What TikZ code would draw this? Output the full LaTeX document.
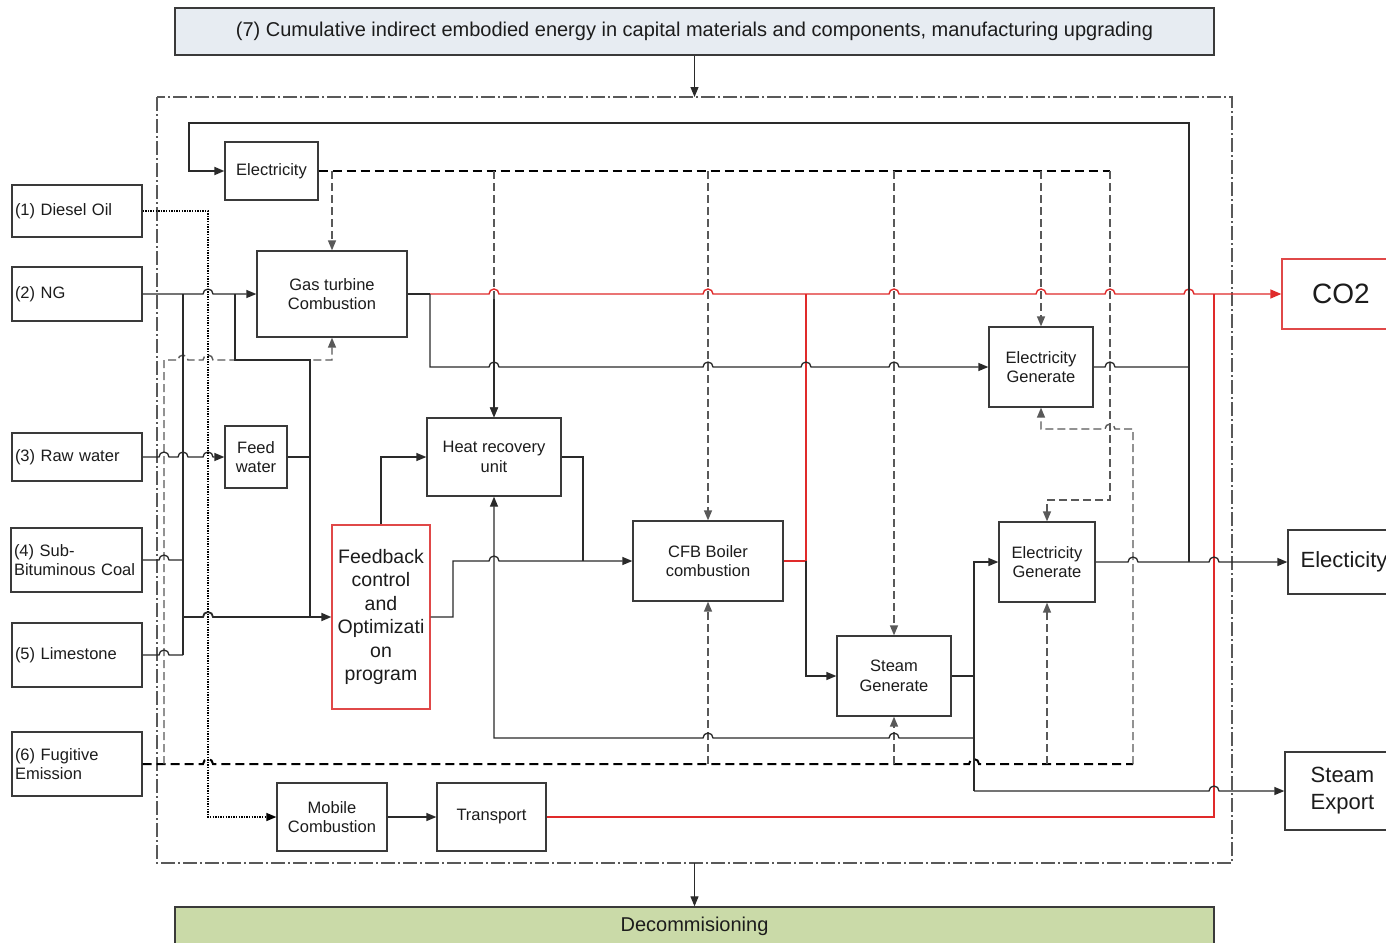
\documentclass[tikz,border=0pt]{standalone}
\usepackage{fontspec}
\setmainfont{Liberation Sans}
\usetikzlibrary{arrows.meta}
\definecolor{boxc}{HTML}{3A3A3A}
\definecolor{linec}{HTML}{2A2A2A}
\definecolor{redc}{HTML}{E02A2A}
\definecolor{redbox}{HTML}{E04848}
\definecolor{txt}{HTML}{1C1C1C}
\definecolor{topfill}{HTML}{E7ECF2}
\definecolor{decfill}{HTML}{CADAA8}
\newcommand\jmpR[2]{-- (#1-5,#2) arc[start angle=180,end angle=0,radius=5pt]}
\newcommand\jmpL[2]{-- (#1+5,#2) arc[start angle=0,end angle=180,radius=5pt]}
\newcommand\bx[7]{\node[#6, minimum width={(#4-#2)*1pt}, minimum height={(#5-#3)*1pt}] (#1) at ({(#2+#4)/2},{(#3+#5)/2}) {#7};}
\begin{document}
\begin{tikzpicture}[x=1pt,y=-1pt,
  box/.style={draw=boxc, line width=1.3pt, fill=white, inner sep=2pt, align=center, text=txt,
    font=\fontsize{16.5}{19.5}\selectfont},
  inbox/.style={box, align=left, text width=124pt, inner xsep=3pt},
  redbox/.style={box, draw=redbox},
  ln/.style={draw=linec, line width=1.3pt},
  arr/.style={-{Triangle[length=10pt,width=8pt]}},
  rarr/.style={-{Triangle[length=11pt,width=9pt,fill=redc]}},
  rd/.style={draw=redc, line width=1.4pt},
  dsh/.style={draw=black, line width=2pt, dash pattern=on 9pt off 5pt},
  dshg/.style={draw=black!65, line width=1.4pt, dash pattern=on 8pt off 4pt},
  dotl/.style={draw=black, line width=1.4pt, dash pattern=on 1.3pt off 1.3pt},
  bnd/.style={draw=black!65, line width=1.2pt, dash pattern=on 14pt off 3pt on 2pt off 3pt}]
\useasboundingbox (0,0) rectangle (1386,942);
\clip (0,0) rectangle (1386,942);
\fill[white] (0,0) rectangle (1386,942);

% boundary
\draw[bnd] (157,97) rectangle (1232,863);

% top and bottom boxes
\bx{top7}{175}{8}{1214}{55}{box, fill=topfill, font=\fontsize{20}{23}\selectfont}{(7) Cumulative indirect embodied energy in capital materials and components, manufacturing upgrading}
\bx{decom}{175}{907}{1214}{945}{box, fill=decfill, font=\fontsize{20}{23}\selectfont}{Decommisioning}

% inputs
\bx{diesel}{12}{185}{142}{237}{inbox}{(1) Diesel Oil}
\bx{ng}{12}{267}{142}{321}{inbox}{(2) NG}
\bx{raw}{12}{433}{142}{481}{inbox}{(3) Raw water}
\bx{coal}{11}{528}{142}{592}{inbox, text width=125pt}{(4) Sub-\\Bituminous Coal}
\bx{lime}{12}{623}{142}{687}{inbox}{(5) Limestone}
\bx{fug}{12}{732}{142}{796}{inbox}{(6) Fugitive\\Emission}

% process boxes
\bx{elec}{225}{142}{318}{200}{box}{Electricity}
\bx{gt}{257}{251}{407}{337}{box}{Gas turbine\\Combustion}
\bx{feed}{225}{426}{287}{488}{box}{Feed\\water}
\bx{hru}{427}{418}{561}{496}{box}{Heat recovery\\unit}
\bx{fb}{332}{525}{430}{709}{redbox, font=\fontsize{19.5}{23.5}\selectfont}{Feedback\\control\\and\\Optimizati\\on\\program}
\bx{cfb}{633}{521}{783}{601}{box}{CFB Boiler\\combustion}
\bx{sg}{837}{636}{951}{716}{box}{Steam\\Generate}
\bx{eg1}{989}{327}{1093}{407}{box}{Electricity\\Generate}
\bx{eg2}{999}{522}{1095}{602}{box}{Electricity\\Generate}
\bx{mob}{277}{783}{387}{851}{box}{Mobile\\Combustion}
\bx{trans}{437}{783}{546}{851}{box}{Transport}

% outputs
\bx{co2}{1282}{259}{1400}{329}{redbox, font=\fontsize{28}{32}\selectfont}{CO2}
\bx{elo}{1288}{530}{1400}{594}{box, font=\fontsize{22}{26}\selectfont}{Electicity}
\bx{steam}{1285}{752}{1400}{830}{box, font=\fontsize{22}{27}\selectfont}{Steam\\Export}

% life-cycle arrows
\draw[ln, line width=1pt, arr] (top7.south) -- (694.5,97);
\draw[ln, line width=1pt, arr] (694.5,863) -- (decom.north);

% red emission lines
\draw[rd] (trans.east) -- (1214,817) -- (1214,294);
\draw[rd] (cfb.east) -- (806,561) -- (806,294);
\draw[rd, rarr] (430,294) \jmpR{494}{294}\jmpR{708}{294}\jmpR{894}{294}\jmpR{1041}{294}\jmpR{1110}{294}\jmpR{1189}{294} -- (co2.west);

% electricity distribution (dashed)
\draw[dsh] (elec.east) -- (1110,171);
\draw[dshg, arr] (1110,171) -- (1110,500) -- (1047,500) -- (eg2.north);
\draw[dshg, arr] (332,171) -- (gt.north);
\draw[dshg, arr] (494,171) -- (hru.north);
\draw[dshg, arr] (708,171) -- (cfb.north);
\draw[dshg, arr] (894,171) -- (sg.north);
\draw[dshg, arr] (1041,171) -- (eg1.north);

% fugitive emission (dashed)
\draw[dsh] (fug.east) \jmpR{208}{764}\jmpR{974}{764} -- (1133,764);
\draw[dshg, arr] (1133,764) -- (1133,429) \jmpL{1110}{429} -- (1041,429) -- (eg1.south);
\draw[dshg, arr] (708,764) -- (cfb.south);
\draw[dshg, arr] (894,764) -- (sg.south);
\draw[dshg, arr] (1047,764) -- (eg2.south);
\draw[dshg, arr] (164,764) -- (164,360) \jmpR{183}{360}\jmpR{208}{360} -- (332,360) -- (gt.south);

% fuel and feed lines
\draw[ln, arr] (ng.east) \jmpR{208}{294} -- (gt.west);
\draw[ln] (183,294) -- (183,655);
\draw[ln] (235,294) -- (235,360) -- (310,360) -- (310,617);
\draw[ln, arr] (raw.east) \jmpR{164}{457}\jmpR{183}{457}\jmpR{208}{457} -- (feed.west);
\draw[ln] (feed.east) -- (310,457);
\draw[ln] (coal.east) \jmpR{164}{560} -- (183,560);
\draw[ln] (lime.east) \jmpR{164}{655} -- (183,655);
\draw[ln, line width=1.8pt, arr] (183,617) \jmpR{208}{617} -- (fb.west);
\draw[dotl, arr] (diesel.east) -- (208,211) -- (208,817) -- (mob.west);
\draw[ln, arr] (mob.east) -- (trans.west);

% process flows
\draw[ln] (gt.east) -- (430,294);
\draw[ln, arr] (430,294) -- (430,367) \jmpR{494}{367}\jmpR{708}{367}\jmpR{806}{367}\jmpR{894}{367} -- (eg1.west);
\draw[ln, arr] (494,299) -- (hru.north);
\draw[ln, arr] (fb.north) |- (hru.west);
\draw[ln, arr] (fb.east) -- (453,617) -- (453,561) \jmpR{494}{561} -- (cfb.west);
\draw[ln] (hru.east) -- (583,457) -- (583,561);
\draw[ln, arr] (806,561) |- (sg.west);
\draw[ln, arr] (974,738) \jmpL{894}{738}\jmpL{708}{738} -- (494,738) -- (hru.south);
\draw[ln, line width=2pt] (sg.east) -- (974,676);
\draw[ln, arr] (974,791) -- (974,562) -- (eg2.west);
\draw[ln, arr] (974,791) \jmpR{1214}{791} -- (steam.west);
\draw[ln, arr] (eg2.east) \jmpR{1133}{562}\jmpR{1214}{562} -- (elo.west);
\draw[ln] (eg1.east) \jmpR{1110}{367} -- (1189,367);
\draw[ln, line width=1.8pt, arr] (1189,562) -- (1189,123) -- (189,123) -- (189,171) -- (elec.west);
\end{tikzpicture}
\end{document}
